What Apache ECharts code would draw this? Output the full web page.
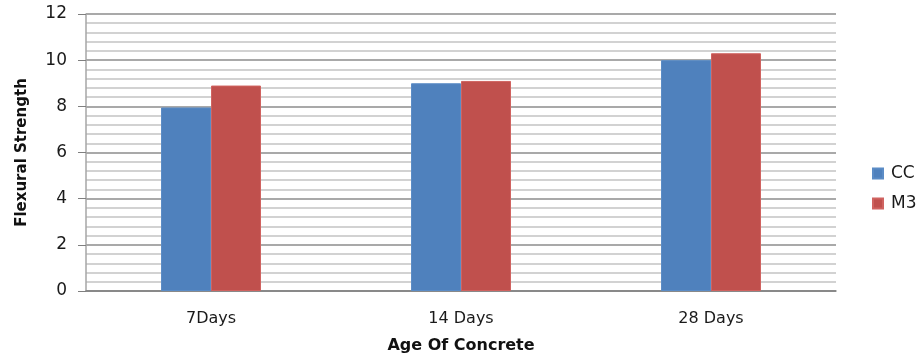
<!DOCTYPE html>
<html>
<head>
<meta charset="utf-8">
<script src="https://cdn.jsdelivr.net/npm/echarts@6/dist/echarts.min.js"></script>
<style>
  html, body { margin: 0; padding: 0; background: #fff; }
  #chart { width: 922px; height: 356px; }
</style>
</head>
<body>
<div id="chart"></div>
<script>
// Flexural strength by age of concrete
const categories = ['7Days', '14 Days', '28 Days'];
const ccValues = [7.95, 9.0, 10.0];
const m3Values = [8.9, 9.1, 10.3];
const yTicks = [0, 2, 4, 6, 8, 10, 12];

const font = '"DejaVu Sans", "Open Sans", sans-serif';
const chart = echarts.init(document.getElementById('chart'));

chart.setOption({
  animation: false,
  backgroundColor: '#fff',
  grid: { left: 86, right: 86, top: 14, bottom: 65, containLabel: false, outerBoundsMode: 'none' },
  legend: {
    orient: 'vertical',
    left: 867,
    top: 160,
    itemWidth: 10,
    itemHeight: 10,
    itemGap: 13,
    icon: 'rect',
    textStyle: { fontFamily: font, fontSize: 17, color: '#1a1a1a', padding: [0, 0, 0, 3] },
    data: ['CC', 'M3']
  },
  xAxis: {
    type: 'category',
    data: categories,
    name: 'Age Of Concrete',
    nameLocation: 'middle',
    nameGap: 47,
    nameTextStyle: { fontFamily: font, fontSize: 16, fontWeight: 'bold', color: '#111' },
    axisLine: { lineStyle: { color: '#7f7f7f', width: 1.5 } },
    axisTick: { show: false },
    axisLabel: { fontFamily: font, fontSize: 16, color: '#1a1a1a', margin: 20 }
  },
  yAxis: {
    type: 'value',
    min: yTicks[0],
    max: yTicks[yTicks.length - 1],
    interval: 2,
    name: 'Flexural Strength',
    nameLocation: 'middle',
    nameGap: 56,
    nameTextStyle: { fontFamily: font, fontSize: 15, fontWeight: 'bold', color: '#111' },
    axisLine: { show: true, lineStyle: { color: '#a6a6a6', width: 1.5 } },
    axisTick: { show: true, length: 8, lineStyle: { color: '#7f7f7f' } },
    axisLabel: { fontFamily: font, fontSize: 17, color: '#1a1a1a', margin: 19 },
    splitLine: { show: true, lineStyle: { color: '#8c8c8c', width: 1.5 } },
    minorTick: { show: false, splitNumber: 5 },
    minorSplitLine: { show: true, lineStyle: { color: '#c4c4c4', width: 1.5 } }
  },
  series: [
    {
      name: 'CC',
      type: 'bar',
      data: ccValues,
      barGap: '0%',
      barCategoryGap: '60%',
      itemStyle: { color: '#4F81BD', borderColor: '#5b8cc6', borderWidth: 1 }
    },
    {
      name: 'M3',
      type: 'bar',
      data: m3Values,
      barGap: '0%',
      barCategoryGap: '60%',
      itemStyle: { color: '#C0504D', borderColor: '#d06360', borderWidth: 1 }
    }
  ]
});
</script>
</body>
</html>
